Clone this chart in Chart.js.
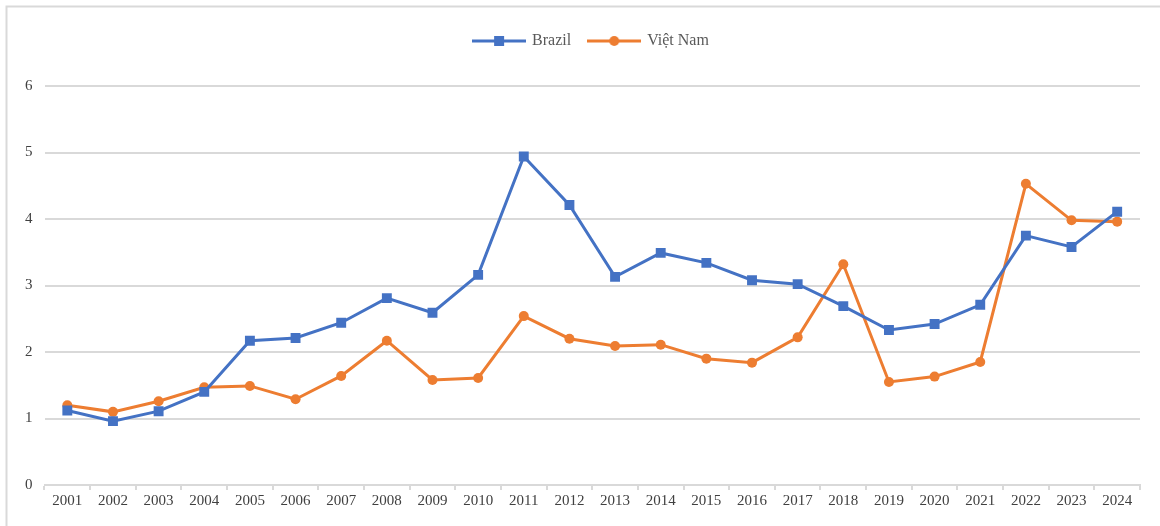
<!DOCTYPE html>
<html>
<head>
<meta charset="utf-8">
<script src="https://cdn.jsdelivr.net/npm/chart.js@4"></script>
<style>
html,body{margin:0;padding:0;background:#fff;}
#wrap{position:relative;width:1160px;height:526px;}
</style>
</head>
<body>
<div id="wrap"><canvas id="c" width="1160" height="526"></canvas></div>
<script>
const years = ["2001","2002","2003","2004","2005","2006","2007","2008","2009","2010","2011","2012","2013","2014","2015","2016","2017","2018","2019","2020","2021","2022","2023","2024"];
const brazil = [1.12,0.96,1.11,1.40,2.17,2.21,2.44,2.81,2.59,3.16,4.94,4.21,3.13,3.49,3.34,3.08,3.02,2.69,2.33,2.42,2.71,3.75,3.58,4.11];
const vietnam = [1.20,1.10,1.26,1.47,1.49,1.29,1.64,2.17,1.58,1.61,2.54,2.20,2.09,2.11,1.90,1.84,2.22,3.32,1.55,1.63,1.85,4.53,3.98,3.96];
const yTicks = [0,1,2,3,4,5,6];

const BLUE = "#4472C4", ORANGE = "#ED7D31";

function legendIcon(color, shape){
  const cv = document.createElement("canvas");
  cv.width = 54; cv.height = 12;
  const g = cv.getContext("2d");
  g.strokeStyle = color; g.lineWidth = 3;
  g.beginPath(); g.moveTo(0,6); g.lineTo(54,6); g.stroke();
  g.fillStyle = color;
  if (shape === "rect") { g.fillRect(22,1,10,10); }
  else { g.beginPath(); g.arc(27,6,5,0,Math.PI*2); g.fill(); }
  return cv;
}
const icons = [legendIcon(BLUE,"rect"), legendIcon(ORANGE,"circle")];

const framePlugin = {
  id: "frame",
  afterLayout(chart){
    const lg = chart.legend;
    if (lg) { lg.left += 15; lg.right += 15; lg.top -= 27; lg.bottom -= 27; }
  },
  afterDraw(chart){
    const ctx = chart.ctx;
    ctx.save();
    ctx.strokeStyle = "#d9d9d9";
    ctx.lineWidth = 2;
    ctx.beginPath();
    ctx.moveTo(6.5, 526);
    ctx.lineTo(6.5, 6.5);
    ctx.lineTo(1160, 6.5);
    ctx.stroke();
    ctx.restore();
  }
};

new Chart(document.getElementById("c"), {
  type: "line",
  data: {
    labels: years,
    datasets: [
      { label: "Brazil", data: brazil, borderColor: BLUE, backgroundColor: BLUE,
        borderWidth: 3, pointStyle: "rect", pointRadius: 7, pointHoverRadius: 7,
        pointBackgroundColor: BLUE, pointBorderColor: BLUE, pointBorderWidth: 0, tension: 0 },
      { label: "Việt Nam", data: vietnam, borderColor: ORANGE, backgroundColor: ORANGE,
        borderWidth: 3, pointStyle: "circle", pointRadius: 5, pointHoverRadius: 5,
        pointBackgroundColor: ORANGE, pointBorderColor: ORANGE, pointBorderWidth: 0, tension: 0 }
    ]
  },
  options: {
    responsive: false,
    animation: false,
    layout: { padding: { left: 13, right: 20, top: 42, bottom: 14 } },
    plugins: {
      tooltip: { enabled: false },
      legend: {
        position: "top",
        labels: {
          usePointStyle: true,
          pointStyleWidth: 50,
          padding: 18,
          color: "#595959",
          font: { family: "'Liberation Serif', 'Times New Roman', serif", size: 16 },
          generateLabels(chart){
            const items = Chart.defaults.plugins.legend.labels.generateLabels(chart);
            items.forEach((it,i) => { it.pointStyle = icons[i]; });
            return items;
          }
        }
      }
    },
    scales: {
      x: {
        type: "category",
        offset: true,
        grid: { display: true, drawOnChartArea: false, offset: true, color: "#d9d9d9", lineWidth: 2, tickLength: 5 },
        border: { display: true, color: "#d9d9d9", width: 2 },
        ticks: { color: "#404040", maxRotation: 0, autoSkip: false, padding: 2,
                 font: { family: "'Liberation Serif', 'Times New Roman', serif", size: 15 } }
      },
      y: {
        min: 0, max: 6,
        afterBuildTicks(axis){ axis.ticks = yTicks.map(v => ({ value: v })); },
        grid: { color: "#d9d9d9", lineWidth: 2, drawTicks: false },
        border: { display: false },
        ticks: { color: "#404040", padding: 12,
                 font: { family: "'Liberation Serif', 'Times New Roman', serif", size: 15 } }
      }
    }
  },
  plugins: [framePlugin]
});
</script>
</body>
</html>
